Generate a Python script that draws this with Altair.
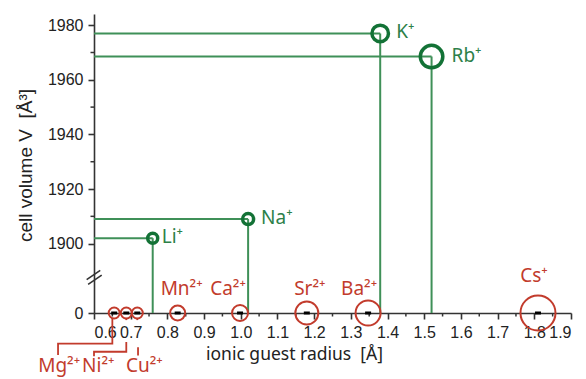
import altair as alt
import pandas as pd

# ---------------- data ----------------
alkali_ions = ["Li⁺", "Na⁺", "K⁺", "Rb⁺"]
alkali_radius = [0.76, 1.02, 1.38, 1.52]          # ionic guest radius [Å]
alkali_volume = [1902.0, 1909.0, 1977.0, 1968.5]  # cell volume V [Å³]
alkali_marker = [10, 11, 16.5, 22.5]              # relative bubble diameter

other_ions = ["Mg²⁺", "Ni²⁺", "Cu²⁺", "Mn²⁺", "Ca²⁺", "Sr²⁺", "Ba²⁺", "Cs⁺"]
other_radius = [0.655, 0.688, 0.718, 0.828, 0.998, 1.18, 1.347, 1.81]
other_volume = [0, 0, 0, 0, 0, 0, 0, 0]
other_marker = [11, 11, 11, 15, 16, 23, 25, 35]

x_ticks = [0.6, 0.7, 0.8, 0.9, 1.0, 1.1, 1.2, 1.3, 1.4, 1.5, 1.6, 1.7, 1.8, 1.9]
x_minor = [0.65, 0.75, 0.85, 0.95, 1.05, 1.15, 1.25, 1.35, 1.45, 1.55, 1.65, 1.75, 1.85]
y_ticks = [0, 1900, 1920, 1940, 1960, 1980]
y_minor = [1910, 1930, 1950, 1970]

# leader lines for the crowded labels below the axis (radius, volume-display units)
leader_seg = ["mg", "mg", "mg", "mg", "ni1", "ni1", "ni2", "ni2", "ni2", "ni2", "cu1", "cu1", "cu2", "cu2"]
leader_x = [0.650, 0.650, 0.502, 0.502, 0.688, 0.688, 0.688, 0.688, 0.600, 0.600, 0.718, 0.718, 0.720, 0.720]
leader_y = [-1.8, -11.2, -11.2, -15.4, -1.8, -2.6, -10.6, -14.2, -14.2, -15.8, -1.8, -2.6, -12.5, -15.6]

# ---------------- broken y axis mapping ----------------
BREAK = 1900.0
GAP = 25.4           # display units between 0 and 1900
Y_TOP = 109.5


def disp(v):
    return v - BREAK + GAP if v >= BREAK else v


# ---------------- styling ----------------
GREEN_LINE = "#3f9058"
GREEN_DARK = "#137236"
GREEN_TEXT = "#2d8048"
RED = "#c23b2c"
AXIS = "#333333"
TICK_FONT = "Liberation Sans"
LABEL_FONT = "Noto Sans"
NB = "\u00a0"

W, H = 477, 299

xs = alt.Scale(domain=[0.6, 1.9], nice=False, zero=False)
ys = alt.Scale(domain=[0, Y_TOP], nice=False, zero=False)

x_axis = alt.Axis(
    values=x_ticks, format=".1f", title=f"ionic guest radius{NB}{NB}[Å]",
    grid=False, tickSize=6, labelPadding=5,
    titleFont=LABEL_FONT, titleFontSize=17.5, titleFontWeight="normal", titleColor="#222",
    titleX=200, titleY=46, titleBaseline="alphabetic", titleAnchor="middle",
)
y_axis = alt.Axis(
    values=[disp(v) for v in y_ticks],
    labelExpr=f"datum.value == 0 ? '0' : format(round(datum.value - {GAP} + {BREAK}), 'd')",
    title=f"cell volume V{NB}{NB}[Å³]", grid=False, tickSize=6, labelPadding=5,
    titleFont=TICK_FONT, titleFontSize=19, titleFontWeight="normal", titleColor="#222",
    titleX=-63, titleY=151, titleBaseline="alphabetic", titleAngle=270, titleAlign="center",
)

X = lambda f: alt.X(f, type="quantitative", scale=xs, axis=x_axis)
Y = lambda f: alt.Y(f, type="quantitative", scale=ys, axis=y_axis)

alk = pd.DataFrame({
    "ion": alkali_ions, "r": alkali_radius, "V": alkali_volume, "m": alkali_marker,
})
alk["d"] = [disp(v) for v in alk["V"]]
alk["x0"] = xs.domain[0]
alk["y0"] = 0.0

oth = pd.DataFrame({
    "ion": other_ions, "r": other_radius, "V": other_volume, "m": other_marker,
})
oth["d"] = [disp(v) for v in oth["V"]]

size_enc = alt.Size("m:Q", scale=alt.Scale(type="pow", exponent=2, domain=[0, 40], range=[0, 1600]), legend=None)

base_alk = alt.Chart(alk)
base_oth = alt.Chart(oth)

h_lines = base_alk.mark_rule(color=GREEN_LINE, strokeWidth=2).encode(x=X("x0"), x2="r:Q", y=Y("d"))
v_lines = base_alk.mark_rule(color=GREEN_LINE, strokeWidth=2).encode(x=X("r"), y=Y("d"), y2="y0:Q")

# minor ticks
ymin_df = pd.DataFrame({"d": [disp(v) for v in y_minor]})
xmin_df = pd.DataFrame({"r": x_minor})
y_minor_ticks = alt.Chart(ymin_df).mark_rule(color=AXIS, strokeWidth=1.5).encode(
    y=Y("d"), x=alt.value(0), x2=alt.value(-3.5))
x_minor_ticks = alt.Chart(xmin_df).mark_rule(color=AXIS, strokeWidth=1.5).encode(
    x=X("r"), y=alt.value(H), y2=alt.value(H + 3.5))

# axis break mark "//"
brk = pd.DataFrame({
    "x1": [0.580, 0.584], "x2": [0.617, 0.621],
    "y1": [disp(0) + 12.2, disp(0) + 10.5], "y2": [disp(0) + 15.6, disp(0) + 13.9],
})
break_mark = alt.Chart(brk).mark_rule(color=AXIS, strokeWidth=1.6).encode(
    x=X("x1"), x2="x2:Q", y=Y("y1"), y2="y2:Q")

# leader lines
lead = pd.DataFrame({"seg": leader_seg, "r": leader_x, "d": leader_y, "o": list(range(len(leader_x)))})
leaders = alt.Chart(lead).mark_line(color=RED, strokeWidth=1.8).encode(
    x=X("r"), y=Y("d"), detail="seg:N", order="o:Q")

alk_circles = base_alk.mark_point(shape="circle", filled=False, strokeWidth=3.5, color=GREEN_DARK, opacity=1).encode(
    x=X("r"), y=Y("d"), size=size_enc)
oth_circles = base_oth.mark_point(shape="circle", filled=False, strokeWidth=2, color=RED, opacity=1).encode(
    x=X("r"), y=Y("d"), size=size_enc)
squares = base_oth.mark_point(shape="M-1,-0.5L1,-0.5L1,0.5L-1,0.5Z", filled=True, color="black",
                              size=36, opacity=1).encode(x=X("r"), y=Y("d"))

layers = [h_lines, v_lines, y_minor_ticks, x_minor_ticks, break_mark, leaders,
          alk_circles, oth_circles, squares]

# label offsets (pixels)
alk_dx = [9, 13, 16, 20]
for i, ion in enumerate(alkali_ions):
    layers.append(
        alt.Chart(alk.iloc[[i]]).mark_text(
            align="left", baseline="middle", dx=alk_dx[i], dy=-1, font=LABEL_FONT,
            fontSize=19, color=GREEN_TEXT,
        ).encode(x=X("r"), y=Y("d"), text="ion:N")
    )

oth_off = {
    "Mg²⁺": (-55, 59, "alphabetic"), "Ni²⁺": (-28, 59, "alphabetic"), "Cu²⁺": (7, 59, "alphabetic"),
    "Mn²⁺": (4, -24, "middle"), "Ca²⁺": (-12, -24, "middle"), "Sr²⁺": (3, -24, "middle"),
    "Ba²⁺": (-9, -24, "middle"), "Cs⁺": (-4, -37, "middle"),
}
for i, ion in enumerate(other_ions):
    dx, dy, bl = oth_off[ion]
    layers.append(
        alt.Chart(oth.iloc[[i]]).mark_text(
            align="center", baseline=bl, dx=dx, dy=dy, font=LABEL_FONT,
            fontSize=19, color=RED,
        ).encode(x=X("r"), y=Y("d"), text="ion:N")
    )

chart = alt.layer(*layers).properties(
    width=W, height=H,
    autosize=alt.AutoSizeParams(type="none"),
    padding={"left": 94, "top": 14, "right": 586 - 94 - W, "bottom": 379 - 14 - H},
    background="white",
).configure_view(stroke=None).configure_axis(
    domainColor=AXIS, domainWidth=1.6, tickColor=AXIS, tickWidth=1.6,
    labelFont=TICK_FONT, labelFontSize=16, labelColor="#222",
)

chart.save("out.html", embed_options={"renderer": "svg", "actions": False})
